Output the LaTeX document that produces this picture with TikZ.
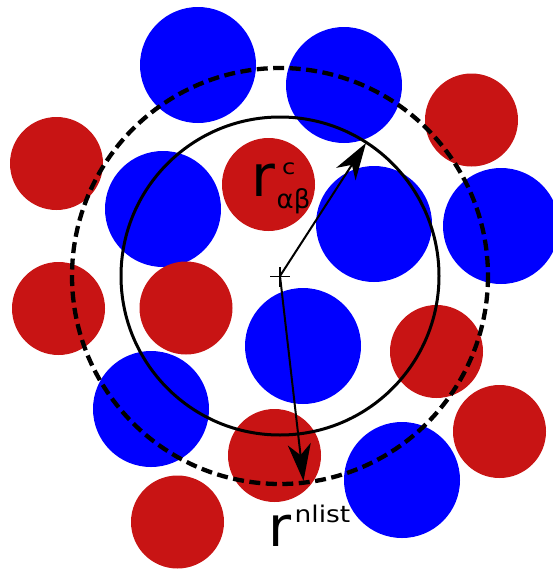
\documentclass[tikz,border=0pt]{standalone}
\usepackage{fontspec}
\setmainfont{DejaVu Sans}
\newfontfamily\widesans[FakeStretch=1.15]{DejaVu Sans}
\usetikzlibrary{arrows.meta}
\definecolor{discred}{RGB}{200,20,20}
\definecolor{discblue}{RGB}{0,0,255}
\tikzset{
  bluedisc/.style={circle,fill=discblue,draw=none,minimum size=116pt,inner sep=0pt},
  reddisc/.style={circle,fill=discred,draw=none,minimum size=93pt,inner sep=0pt},
  cutcircle/.style={draw=black,line width=3pt},
  listcircle/.style={draw=black,line width=4.3pt,dash pattern=on 11pt off 5.5pt},
  radarrow/.style={draw=black,line width=2pt,-{Stealth[length=37pt,width=23pt,inset=11pt]}},
  lbl/.style={inner sep=0pt,anchor=base west,text=black}
}
\begin{document}
\begin{tikzpicture}[x=1pt,y=-1pt]
\useasboundingbox (0,0) rectangle (552,570);
% blue discs
\node[bluedisc] (b1) at (198,65) {};
\node[bluedisc] (b2) at (344,85) {};
\node[bluedisc] (b3) at (163,209) {};
\node[bluedisc] (b4) at (374,224) {};
\node[bluedisc] (b5) at (501,226) {};
\node[bluedisc] (b6) at (303,346) {};
\node[bluedisc] (b7) at (151,409) {};
\node[bluedisc] (b8) at (402,480) {};
% red discs
\node[reddisc] (r1) at (56.5,163.5) {};
\node[reddisc] (r2) at (471.5,120) {};
\node[reddisc] (r3) at (268.5,184.5) {};
\node[reddisc] (r4) at (58.5,308.5) {};
\node[reddisc] (r5) at (186,308) {};
\node[reddisc] (r6) at (436.5,351.5) {};
\node[reddisc] (r7) at (499.5,431.5) {};
\node[reddisc] (r8) at (274.5,455.5) {};
\node[reddisc] (r9) at (177.5,522) {};
% cut-off and neighbour-list circles
\coordinate (ctr) at (280,276);
\draw[cutcircle] (ctr) circle[radius=159];
\draw[listcircle] (ctr) circle[radius=208];
% centre mark
\coordinate (plusl) at (270,276.5);
\coordinate (plusr) at (290,276.5);
\coordinate (plust) at (280,267);
\coordinate (plusb) at (280,287);
\draw[black,line width=1.8pt] (plusl) -- (plusr);
\draw[black,line width=1.8pt] (plust) -- (plusb);
% radius arrows
\coordinate (tipc) at (366,143);
\coordinate (tipn) at (303.5,481);
\draw[radarrow] (ctr) -- (tipc);
\draw[radarrow] (ctr) -- (tipn);
% labels
\node[lbl,font=\fontsize{58}{58}\selectfont] (rc) at (251.5,196) {r};
\node[lbl,font=\widesans\fontsize{21}{21}\selectfont] (rcsup) at (282,174) {c};
\node[lbl,font=\fontsize{26}{26}\selectfont] (rcsub) at (276.5,208) {αβ};
\node[lbl,font=\fontsize{56}{56}\selectfont] (rn) at (268,546.5) {r};
\node[lbl,font=\widesans\fontsize{23}{23}\selectfont] (rnsup) at (294.5,522.3) {nlist};
\end{tikzpicture}
\end{document}
